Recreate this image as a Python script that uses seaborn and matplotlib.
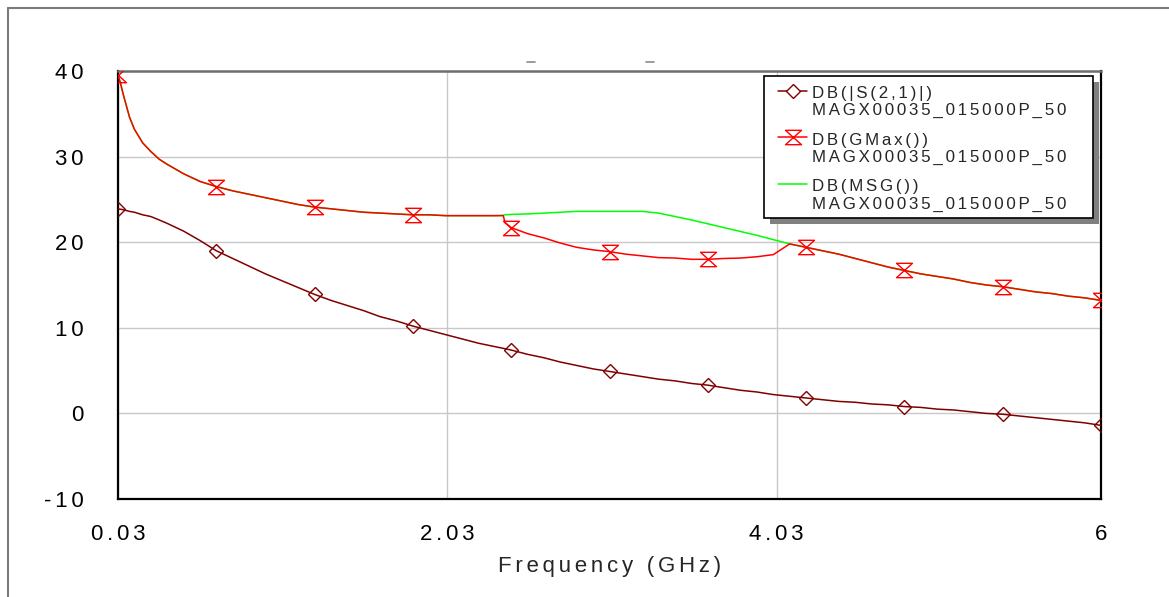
import numpy as np
import pandas as pd
import matplotlib
matplotlib.use("Agg")
import matplotlib.pyplot as plt
import seaborn as sns
from matplotlib.lines import Line2D
from matplotlib.path import Path
from matplotlib.patches import Rectangle
from matplotlib.transforms import IdentityTransform
from matplotlib.legend_handler import HandlerLine2D

# ---------------- data ----------------
freq_ghz = [0.03, 0.045, 0.06, 0.08, 0.10, 0.1295, 0.18, 0.229, 0.28, 0.3285,
            0.428, 0.5275, 0.627, 0.7265, 0.826, 0.9255, 1.025, 1.1245, 1.224, 1.3235,
            1.423, 1.5225, 1.622, 1.7215, 1.821, 1.9205, 2.02, 2.1195, 2.219, 2.3185,
            2.37, 2.38, 2.418, 2.5175, 2.617, 2.7165, 2.816, 2.9155, 3.015, 3.1145,
            3.214, 3.3135, 3.413, 3.5125, 3.612, 3.7115, 3.811, 3.9105, 4.01, 4.1095,
            4.209, 4.3085, 4.408, 4.5075, 4.607, 4.7065, 4.806, 4.9055, 5.005, 5.1045,
            5.204, 5.3035, 5.403, 5.5025, 5.602, 5.7015, 5.801, 5.9005, 6.0]

s21_db = [23.9, 23.85, 23.8, 23.7, 23.6, 23.5, 23.2, 23.0, 22.6, 22.2,
          21.3, 20.2, 19.0, 18.1, 17.2, 16.3, 15.5, 14.7, 13.9, 13.2,
          12.6, 12.0, 11.3, 10.8, 10.2, 9.7, 9.2, 8.7, 8.2, 7.8,
          7.6, 7.55, 7.4, 6.9, 6.5, 6.0, 5.6, 5.2, 4.9, 4.6,
          4.3, 4.0, 3.8, 3.5, 3.3, 3.0, 2.7, 2.5, 2.2, 2.0,
          1.8, 1.6, 1.4, 1.3, 1.1, 1.0, 0.8, 0.7, 0.5, 0.4,
          0.2, 0.0, -0.1, -0.3, -0.5, -0.7, -0.9, -1.1, -1.4]

gmax_db = [39.5, 38.6, 37.4, 36.0, 34.6, 33.2, 31.6, 30.6, 29.7, 29.1,
           28.0, 27.1, 26.5, 26.0, 25.6, 25.2, 24.8, 24.4, 24.1, 23.9,
           23.7, 23.5, 23.4, 23.3, 23.2, 23.2, 23.1, 23.1, 23.1, 23.1,
           23.1, 22.3, 21.7, 21.0, 20.5, 19.9, 19.4, 19.1, 18.9, 18.6,
           18.4, 18.2, 18.15, 18.0, 18.0, 18.1, 18.15, 18.3, 18.55, 19.8,
           19.4, 19.0, 18.6, 18.1, 17.6, 17.1, 16.7, 16.3, 16.0, 15.7,
           15.3, 15.0, 14.8, 14.5, 14.2, 14.0, 13.7, 13.5, 13.2]

msg_db = [39.5, 38.6, 37.4, 36.0, 34.6, 33.2, 31.6, 30.6, 29.7, 29.1,
          28.0, 27.1, 26.5, 26.0, 25.6, 25.2, 24.8, 24.4, 24.1, 23.9,
          23.7, 23.5, 23.4, 23.3, 23.2, 23.2, 23.1, 23.1, 23.1, 23.1,
          23.15, 23.2, 23.25, 23.3, 23.4, 23.5, 23.6, 23.6, 23.6, 23.6,
          23.6, 23.4, 23.0, 22.6, 22.15, 21.7, 21.25, 20.8, 20.3, 19.8,
          19.4, 19.0, 18.6, 18.1, 17.6, 17.1, 16.7, 16.3, 16.0, 15.7,
          15.3, 15.0, 14.8, 14.5, 14.2, 14.0, 13.7, 13.5, 13.2]

marker_freq_ghz = [0.03, 0.627, 1.224, 1.821, 2.418, 3.015, 3.612, 4.209, 4.806, 5.403, 6.0]

series_names = ["DB(|S(2,1)|)", "DB(GMax())", "DB(MSG())"]
source_name = "MAGX00035_015000P_50"
x_ticks = [0.03, 2.03, 4.03, 6.0]
x_tick_labels = ["0.03", "2.03", "4.03", "6"]
y_ticks = [-10, 0, 10, 20, 30, 40]
y_tick_labels = ["-10", "0", "10", "20", "30", "40"]
x_label = "Frequency (GHz)"

# ---------------- style ----------------
sns.set_style("white")
plt.rcParams["font.family"] = ["Liberation Sans", "DejaVu Sans"]

def track(s):
    return "\u2006".join(s)

c_s21, c_gmax, c_msg = "#800000", "#ff0000", "#00ff00"
hourglass = Path([(-1, 0.9), (1, 0.9), (-1, -0.9), (1, -0.9), (-1, 0.9)],
                 [Path.MOVETO, Path.LINETO, Path.LINETO, Path.LINETO, Path.CLOSEPOLY])

W, H = 1169, 597
fig, ax = plt.subplots(figsize=(W / 100, H / 100), dpi=100)
fig.subplots_adjust(left=118 / W, right=1101 / W, top=1 - 71 / H, bottom=1 - 499 / H)

df = pd.DataFrame({"freq": freq_ghz, "s21": s21_db, "gmax": gmax_db, "msg": msg_db})
mark_idx = [int(np.argmin(np.abs(np.asarray(freq_ghz) - f))) for f in marker_freq_ghz]

sns.lineplot(data=df, x="freq", y="msg", ax=ax, color=c_msg, lw=1.1, zorder=2,
             errorbar=None)
sns.lineplot(data=df, x="freq", y="gmax", ax=ax, color=c_gmax, lw=1.1, zorder=3,
             marker=hourglass, markevery=mark_idx, markersize=11.5, mfc="none",
             mec=c_gmax, mew=1.0, errorbar=None)
sns.lineplot(data=df, x="freq", y="s21", ax=ax, color=c_s21, lw=1.1, zorder=3,
             marker="D", markevery=mark_idx, markersize=7.5, mfc="none",
             mec=c_s21, mew=1.0, errorbar=None)

ax.set_xlim(0.03, 6.0)
ax.set_ylim(-10, 40)
ax.set_xticks(x_ticks)
ax.set_xticklabels([track(t) for t in x_tick_labels], fontsize=16)
ax.set_yticks(y_ticks)
ax.set_yticklabels([track(t) for t in y_tick_labels], fontsize=16)
ax.tick_params(axis="both", length=0, colors="black")
ax.tick_params(axis="y", pad=25)
ax.tick_params(axis="x", pad=18)
ax.set_xlabel(track(x_label), fontsize=16, labelpad=8)
ax.set_ylabel("")
ax.grid(True, color="#c8c8c8", lw=1.0)
ax.set_axisbelow(True)
for side in ["left", "bottom", "right"]:
    ax.spines[side].set_color("black")
    ax.spines[side].set_linewidth(1.6)
ax.spines["top"].set_color("#6e6e6e")
ax.spines["top"].set_linewidth(1.8)

# legend with the handle beside the first line of each two-line label
class TopHandler(HandlerLine2D):
    def __init__(self, shift, **kw):
        super().__init__(**kw)
        self.shift = shift

    def create_artists(self, legend, orig_handle, xdescent, ydescent, width,
                       height, fontsize, trans):
        arts = super().create_artists(legend, orig_handle, xdescent, ydescent,
                                      width, height, fontsize, trans)
        for a in arts:
            a.set_ydata(np.asarray(a.get_ydata(), dtype=float) + self.shift)
        return arts

handles = [
    Line2D([], [], color=c_s21, lw=1.1, marker="D", markersize=7.5, mfc="white", mec=c_s21, mew=1.0),
    Line2D([], [], color=c_gmax, lw=1.1, marker=hourglass, markersize=11.5, mfc="none", mec=c_gmax, mew=1.0),
    Line2D([], [], color=c_msg, lw=1.1),
]
labels = [track(n) + "\n" + track(source_name) for n in series_names]
extra_right = 16
extra_left = 4
trim_bottom = 4
leg = ax.legend(handles, labels, loc="upper right",
                bbox_to_anchor=((1093 - extra_right - 118) / 983, (499 - 76) / 428),
                borderaxespad=0, fontsize=12.2, frameon=False,
                handlelength=1.75, handletextpad=0.3, borderpad=0.6,
                labelspacing=0.85,
                handler_map={h: TopHandler(shift=8.5) for h in handles})
for t in leg.get_texts():
    t.set_linespacing(1.17)

# outer frame of the picture and the two small dashes at the top
fig.add_artist(Line2D([7.5 / W, 1], [1 - 7.5 / H] * 2, transform=fig.transFigure,
                      color="#7a7a7a", lw=1.5))
fig.add_artist(Line2D([7.5 / W] * 2, [0, 1 - 7.5 / H], transform=fig.transFigure,
                      color="#7a7a7a", lw=1.5))
for cx in (531, 650):
    fig.add_artist(Line2D([(cx - 4) / W, (cx + 4) / W], [1 - 62 / H] * 2,
                          transform=fig.transFigure, color="#8a8a8a", lw=1.2))

# legend box with its drop shadow
fig.canvas.draw()
bb = leg.get_window_extent()
bx0 = bb.x0 - extra_left
by0 = bb.y0 + trim_bottom
bw = bb.width + extra_left + extra_right
bh = bb.height - trim_bottom
ax.add_patch(Rectangle((bx0 + 6, by0 - 6), bw, bh,
                       transform=IdentityTransform(), facecolor="#808080",
                       edgecolor="none", zorder=4.8, clip_on=False))
ax.add_patch(Rectangle((bx0, by0), bw, bh,
                       transform=IdentityTransform(), facecolor="white",
                       edgecolor="black", lw=1.2, zorder=4.9, clip_on=False))

fig.savefig("out.png", dpi=100)
